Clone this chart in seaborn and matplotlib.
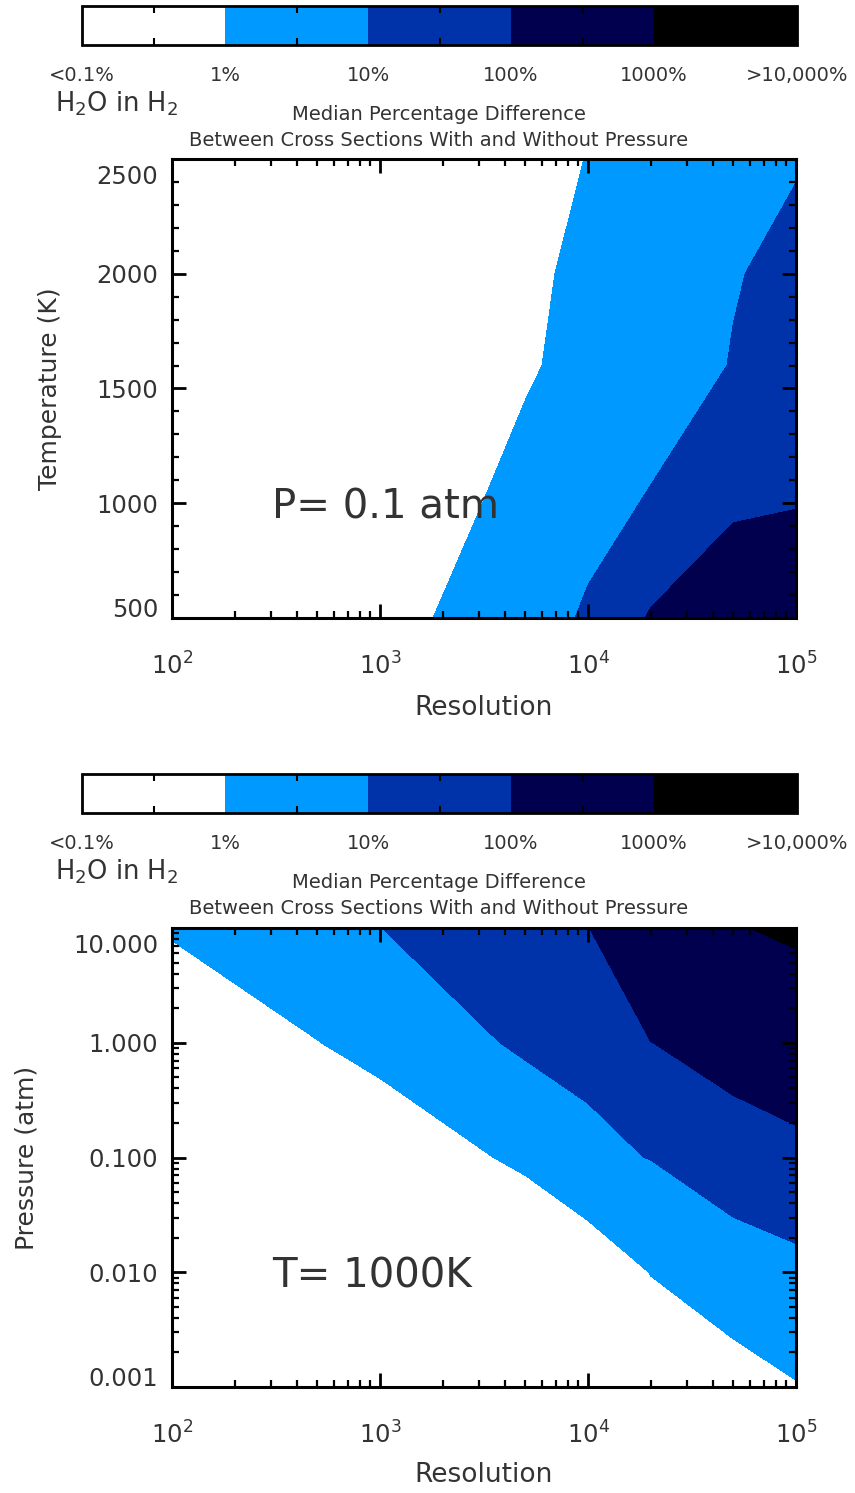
import numpy as np
import matplotlib
matplotlib.use("Agg")
import matplotlib.pyplot as plt
from matplotlib.colors import ListedColormap, BoundaryNorm
from matplotlib.cm import ScalarMappable
from matplotlib.ticker import FixedLocator
from matplotlib.transforms import ScaledTranslation
import seaborn as sns

# Spectral resolutions of the cross-section grid
resolution = [100, 500, 1000, 5000, 10000, 20000, 50000, 100000]

# P = 0.1 atm: median percentage difference on the temperature grid
temperature = [500, 1000, 1600, 2000, 2500]
pct_T500 = [0.0251, 0.126, 0.377, 5.47, 11.7, 124, 308, 813]
pct_T1000 = [0.00251, 0.0126, 0.0368, 3.98, 6.79, 10.9, 79.4, 89.1]
pct_T1600 = [0.00251, 0.01, 0.0631, 0.631, 3.56, 5.62, 10.5, 22.4]
pct_T2000 = [0.00251, 0.01, 0.0501, 0.501, 2.17, 3.98, 9.45, 12.8]
pct_T2500 = [0.00251, 0.01, 0.0501, 0.501, 1.05, 2.51, 5.62, 9.37]

# T = 1000 K: median percentage difference on the pressure grid (atm)
pressure = [0.001, 0.01, 0.1, 1, 10]
pct_P0001 = [0.00063, 0.00158, 0.00316, 0.0126, 0.0398, 0.225, 0.671, 0.902]
pct_P001 = [0.00398, 0.01, 0.02, 0.0875, 0.211, 1.05, 1.74, 5.08]
pct_P01 = [0.0251, 0.0501, 0.201, 1.57, 6.68, 10.5, 66.7, 76.4]
pct_P1 = [0.155, 0.955, 2.06, 14.0, 15.7, 98.9, 141, 200]
pct_P10 = [1.26, 5.62, 9.77, 49.0, 97.7, 251, 877, 1426]

# Colour bands (percent) and their labels
band_edges = [0.1, 1, 10, 100, 1000, 10000]
band_labels = ["<0.1%", "1%", "10%", "100%", "1000%", ">10,000%"]
band_colors = ["#FFFFFF", "#0099FF", "#0033AA", "#00004F", "#000000"]

x_ticks = [2, 3, 4, 5]
x_ticklabels = ["$10^{2}$", "$10^{3}$", "$10^{4}$", "$10^{5}$"]
t_ticks = [500, 1000, 1500, 2000, 2500]
p_ticks = [-3, -2, -1, 0, 1]
p_ticklabels = ["0.001", "0.010", "0.100", "1.000", "10.000"]

sns.set_style("ticks")
plt.rcParams["font.family"] = ["DejaVu Sans"]
plt.rcParams["mathtext.default"] = "regular"
plt.rcParams["axes.axisbelow"] = False
TXT = "#333333"

W, H = 855, 1493
fig = plt.figure(figsize=(W / 100, H / 100), dpi=100)


def fbox(x0, y0, x1, y1):
    return [x0 / W, 1 - y1 / H, (x1 - x0) / W, (y1 - y0) / H]


def log_minor(lo, hi):
    return [np.log10(k * 10.0 ** n) for n in range(lo, hi) for k in range(2, 10)]


def draw_colorbar(y0):
    cax = fig.add_axes(fbox(82, y0, 797, y0 + 39))
    cax.set_axisbelow(False)
    edges = np.log10(band_edges)
    sm = ScalarMappable(norm=BoundaryNorm(edges, len(band_colors)),
                        cmap=ListedColormap(band_colors))
    cb = fig.colorbar(sm, cax=cax, orientation="horizontal", ticks=edges)
    cb.ax.set_xticklabels(band_labels)
    cb.outline.set_linewidth(2)
    cb.outline.set_edgecolor("black")
    cb.ax.xaxis.set_minor_locator(FixedLocator((edges[:-1] + edges[1:]) / 2))
    cb.ax.tick_params(which="major", length=0, pad=15, labelsize=14,
                      labelcolor=TXT)
    cb.ax.tick_params(which="minor", direction="in", top=True, bottom=True,
                      length=5, width=1.5, color="black")
    # legend heading and figure titles
    fig.text(55 / W, 1 - (y0 + 98) / H, "H$_2$O in H$_2$", fontsize=18.5,
             color=TXT, ha="left", va="center")
    fig.text(439 / W, 1 - (y0 + 108) / H, "Median Percentage Difference",
             fontsize=14, color=TXT, ha="center", va="center")
    fig.text(439 / W, 1 - (y0 + 134) / H,
             "Between Cross Sections With and Without Pressure",
             fontsize=14, color=TXT, ha="center", va="center")


def style_axes(ax):
    ax.set_axisbelow(False)
    for s in ax.spines.values():
        s.set_visible(True)
        s.set_linewidth(2.2)
        s.set_color("black")
        s.set_zorder(5)
    ax.tick_params(which="both", direction="in", top=True, right=True,
                   bottom=True, left=True, color="black")
    ax.tick_params(which="major", length=10, width=2, labelsize=17.5,
                   labelcolor=TXT)
    ax.tick_params(which="minor", length=5, width=1.6)
    ax.tick_params(axis="x", pad=25)
    ax.tick_params(axis="y", pad=10)
    ax.set_xlim(2, 5)
    ax.xaxis.set_major_locator(FixedLocator(x_ticks))
    ax.set_xticklabels(x_ticklabels)
    ax.xaxis.set_minor_locator(FixedLocator(log_minor(2, 5)))


def edge_labels(ax):
    # keep the end labels of the y axis inside the frame
    ticks = ax.yaxis.get_major_ticks()
    lo, hi = ticks[0].label1, ticks[-1].label1
    lo.set_va("bottom")
    hi.set_va("top")
    lo.set_transform(lo.get_transform()
                     + ScaledTranslation(0, -3 / 72, fig.dpi_scale_trans))
    hi.set_transform(hi.get_transform()
                     + ScaledTranslation(0, -4 / 72, fig.dpi_scale_trans))


levels = np.log10([1, 10, 100, 1000])
logR = np.log10(resolution)

# ---------------- Panel 1: temperature dependence at 0.1 atm ----------------
draw_colorbar(6)
ax1 = fig.add_axes(fbox(172, 159, 796, 618))
Z1 = np.log10([pct_T500, pct_T1000, pct_T1600, pct_T2000, pct_T2500])
ax1.contourf(logR, temperature, Z1, levels=levels, colors=band_colors,
             extend="both", zorder=0)
style_axes(ax1)
ax1.set_ylim(500, 2500)
ax1.yaxis.set_major_locator(FixedLocator(t_ticks))
ax1.set_yticklabels([str(t) for t in t_ticks])
ax1.yaxis.set_minor_locator(FixedLocator([t for t in range(600, 2500, 100)
                                          if t % 500]))
edge_labels(ax1)
ax1.set_xlabel("Resolution", fontsize=19, color=TXT)
ax1.xaxis.set_label_coords(0.5, (618 - 708) / 459)
ax1.xaxis.label.set_va("center")
ax1.set_ylabel("Temperature (K)", fontsize=18, color=TXT)
ax1.yaxis.set_label_coords((50 - 172) / 624, 0.5)
ax1.yaxis.label.set_va("center")
ax1.text((272 - 172) / 624, (618 - 508) / 459, "P= 0.1 atm", fontsize=29,
         color=TXT, ha="left", va="center", transform=ax1.transAxes)

# ---------------- Panel 2: pressure dependence at 1000 K ----------------
draw_colorbar(774)
ax2 = fig.add_axes(fbox(172, 928, 796, 1387))
Z2 = np.log10([pct_P0001, pct_P001, pct_P01, pct_P1, pct_P10])
ax2.contourf(logR, np.log10(pressure), Z2, levels=levels, colors=band_colors,
             extend="both", zorder=0)
style_axes(ax2)
ax2.set_ylim(-3, 1)
ax2.yaxis.set_major_locator(FixedLocator(p_ticks))
ax2.set_yticklabels(p_ticklabels)
ax2.yaxis.set_minor_locator(FixedLocator(log_minor(-3, 1)))
edge_labels(ax2)
ax2.set_xlabel("Resolution", fontsize=19, color=TXT)
ax2.xaxis.set_label_coords(0.5, (1387 - 1475) / 459)
ax2.xaxis.label.set_va("center")
ax2.set_ylabel("Pressure (atm)", fontsize=18, color=TXT)
ax2.yaxis.set_label_coords((27 - 172) / 624, 0.5)
ax2.yaxis.label.set_va("center")
ax2.text((272 - 172) / 624, (1387 - 1277) / 459, "T= 1000K", fontsize=29,
         color=TXT, ha="left", va="center", transform=ax2.transAxes)

fig.savefig("out.png", dpi=100)
